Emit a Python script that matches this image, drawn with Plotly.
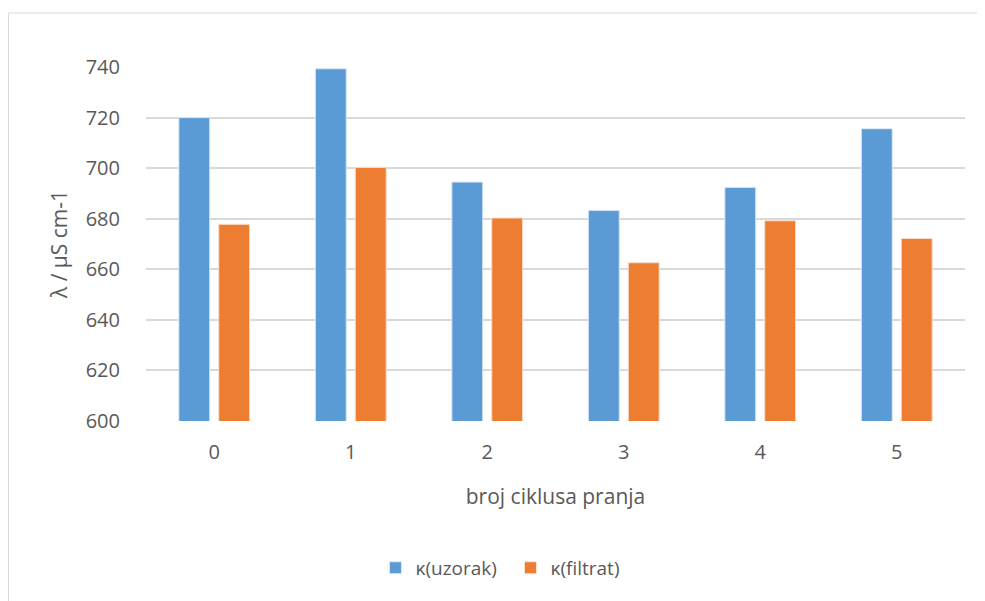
import plotly.graph_objects as go

categories = ["0", "1", "2", "3", "4", "5"]
uzorak = [720, 739.3, 694.5, 683.3, 692.4, 715.6]
filtrat = [677.8, 700.3, 680.3, 662.6, 679.2, 672.2]
y_ticks = [600, 620, 640, 660, 680, 700, 720, 740]

FONT = "Open Sans"
GRAY = "#595959"

fig = go.Figure()
fig.add_trace(go.Bar(x=categories, y=uzorak, name="κ(uzorak)",
                     marker=dict(color="#5B9BD5", line=dict(color="#dce9f6", width=1))))
fig.add_trace(go.Bar(x=categories, y=filtrat, name="κ(filtrat)",
                     marker=dict(color="#ED7D31", line=dict(color="#fbe0cf", width=1))))

fig.update_layout(
    width=985, height=601,
    margin=dict(l=138, r=28, t=59, b=188),
    paper_bgcolor="white", plot_bgcolor="white",
    barmode="group", bargap=0.415, bargroupgap=0.225,
    font=dict(family=FONT, size=20, color=GRAY),
    showlegend=True,
    legend=dict(orientation="h", x=0.445, xanchor="center", y=-0.415, yanchor="middle",
                font=dict(size=19, color=GRAY), itemwidth=30, entrywidth=90),
    xaxis=dict(showgrid=False, ticks="", ticklabelstandoff=17,
               tickfont=dict(size=20, color=GRAY),
               title=dict(text="broj ciklusa pranja", standoff=25,
                          font=dict(size=21, color=GRAY))),
    yaxis=dict(range=[600, 740], tickvals=y_ticks, showgrid=True,
               gridcolor="#d9d9d9", gridwidth=2, zeroline=False,
               showline=False, ticks="", ticklabelstandoff=25,
               tickfont=dict(size=20, color=GRAY),
               title=dict(text="λ / µS cm-1", standoff=12,
                          font=dict(size=21, color=GRAY))),
    shapes=[dict(type="rect", xref="paper", yref="paper", x0=-0.1679, x1=1.023,
                 y0=-0.6, y1=1.1525, line=dict(color="#d9d9d9", width=1),
                 layer="below")],
)

fig.write_html("out.html")
